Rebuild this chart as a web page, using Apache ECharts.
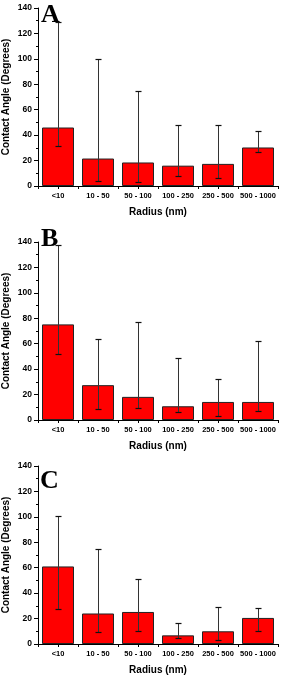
<!DOCTYPE html>
<html>
<head>
<meta charset="utf-8">
<script src="https://cdn.jsdelivr.net/npm/echarts@6/dist/echarts.min.js"></script>
<style>
html,body{margin:0;padding:0;background:#fff;}
#chart{width:281px;height:677px;}
</style>
</head>
<body>
<div id="chart"></div>
<script>
const categories = ['<10', '10 - 50', '50 - 100', '100 - 250', '250 - 500', '500 - 1000'];
const yTicks = [0, 20, 40, 60, 80, 100, 120, 140];
const panelLabels = ['A', 'B', 'C'];

const meanA  = [46.0, 21.6, 18.5, 16.0, 17.4, 30.3];
const upperA = [129.0, 99.8, 74.8, 48.2, 48.0, 43.0];
const lowerA = [31.6, 3.7, 2.9, 7.6, 6.1, 27.1];

const meanB  = [75.2, 27.4, 18.2, 10.8, 14.2, 14.2];
const upperB = [137.4, 64.0, 77.0, 48.4, 32.4, 62.4];
const lowerB = [52.0, 8.9, 9.5, 6.0, 3.2, 7.1];

const meanC  = [61.0, 24.0, 25.2, 6.8, 10.0, 20.5];
const upperC = [100.6, 74.8, 51.2, 16.5, 29.1, 28.3];
const lowerC = [27.6, 9.2, 10.0, 4.7, 3.4, 10.5];

const panels = [
  {mean: meanA, upper: upperA, lower: lowerA},
  {mean: meanB, upper: upperB, lower: lowerB},
  {mean: meanC, upper: upperC, lower: lowerC}
];

const gridTops = [8, 242, 466];
const gridH = 178;
const letterPos = [[41, 15], [41, 239], [40, 481]];
const FONT = '"Liberation Sans", Arial, sans-serif';

const grids = [], xAxes = [], yAxes = [], series = [], graphics = [];

panels.forEach((p, k) => {
  grids.push({left: 38, width: 240, top: gridTops[k], height: gridH, containLabel: false, outerBoundsMode: 'none'});
  xAxes.push({
    type: 'category', gridIndex: k, data: categories, position: 'bottom',
    axisLine: {show: true, lineStyle: {color: '#000', width: 1}},
    axisTick: {show: true, alignWithLabel: false, length: 3, lineStyle: {color: '#000'}},
    axisLabel: {show: true, interval: 0, margin: 6, color: '#000', fontSize: 7.5, fontWeight: 'bold', fontFamily: FONT},
    name: 'Radius (nm)', nameLocation: 'middle', nameGap: 21, nameMoveOverlap: false,
    nameTextStyle: {color: '#000', fontSize: 10, fontWeight: 'bold', fontFamily: FONT}
  });
  xAxes.push({
    type: 'category', gridIndex: k, data: categories, position: 'bottom',
    axisLine: {show: false},
    axisTick: {show: true, alignWithLabel: true, length: 3, lineStyle: {color: '#000'}},
    axisLabel: {show: false}
  });
  yAxes.push({
    type: 'value', gridIndex: k, min: yTicks[0], max: yTicks[yTicks.length - 1], interval: yTicks[1] - yTicks[0],
    axisLine: {show: true, lineStyle: {color: '#000', width: 1}},
    axisTick: {show: true, length: 4, lineStyle: {color: '#000'}},
    minorTick: {show: true, splitNumber: 2, length: 2, lineStyle: {color: '#000'}},
    splitLine: {show: false},
    axisLabel: {margin: 6, color: '#000', fontSize: 8.5, fontWeight: 'bold', fontFamily: FONT},
    name: 'Contact Angle (Degrees)', nameLocation: 'middle', nameGap: 27, nameMoveOverlap: false,
    nameTextStyle: {color: '#000', fontSize: 10, fontWeight: 'bold', fontFamily: FONT}
  });
  series.push({
    type: 'bar', xAxisIndex: 2 * k, yAxisIndex: k,
    data: p.mean, barCategoryGap: '20%',
    itemStyle: {color: '#ff0000', borderColor: '#222', borderWidth: 1},
    silent: true, animation: false
  });
  series.push({
    type: 'custom', xAxisIndex: 2 * k, yAxisIndex: k,
    data: p.mean.map((v, i) => [i, p.lower[i], p.upper[i]]),
    encode: {x: 0, y: [1, 2]},
    z: 10, silent: true, animation: false,
    renderItem: function (params, api) {
      const i = api.value(0);
      const hi = api.coord([i, api.value(2)]);
      const lo = api.coord([i, api.value(1)]);
      const x = Math.round(hi[0]) + 0.5;
      const yh = Math.round(hi[1]) + 0.5, yl = Math.round(lo[1]) + 0.5;
      const hw = 3;
      const st = {stroke: '#111', lineWidth: 1.2};
      return {type: 'group', children: [
        {type: 'line', shape: {x1: x, y1: yh, x2: x, y2: yl}, style: {stroke: '#333', lineWidth: 1}},
        {type: 'line', shape: {x1: x - hw, y1: yh, x2: x + hw, y2: yh}, style: st},
        {type: 'line', shape: {x1: x - hw, y1: yl, x2: x + hw, y2: yl}, style: st}
      ]};
    }
  });
  graphics.push({
    type: 'text', left: letterPos[k][0], top: letterPos[k][1] - 13, z: 100,
    style: {text: panelLabels[k], font: 'bold 26px "Liberation Serif", "Times New Roman", serif', fill: '#000'}
  });
});

const chart = echarts.init(document.getElementById('chart'), null, {renderer: 'canvas'});
chart.setOption({
  backgroundColor: '#fff',
  animation: false,
  grid: grids, xAxis: xAxes, yAxis: yAxes, series: series, graphic: graphics
});
</script>
</body>
</html>
